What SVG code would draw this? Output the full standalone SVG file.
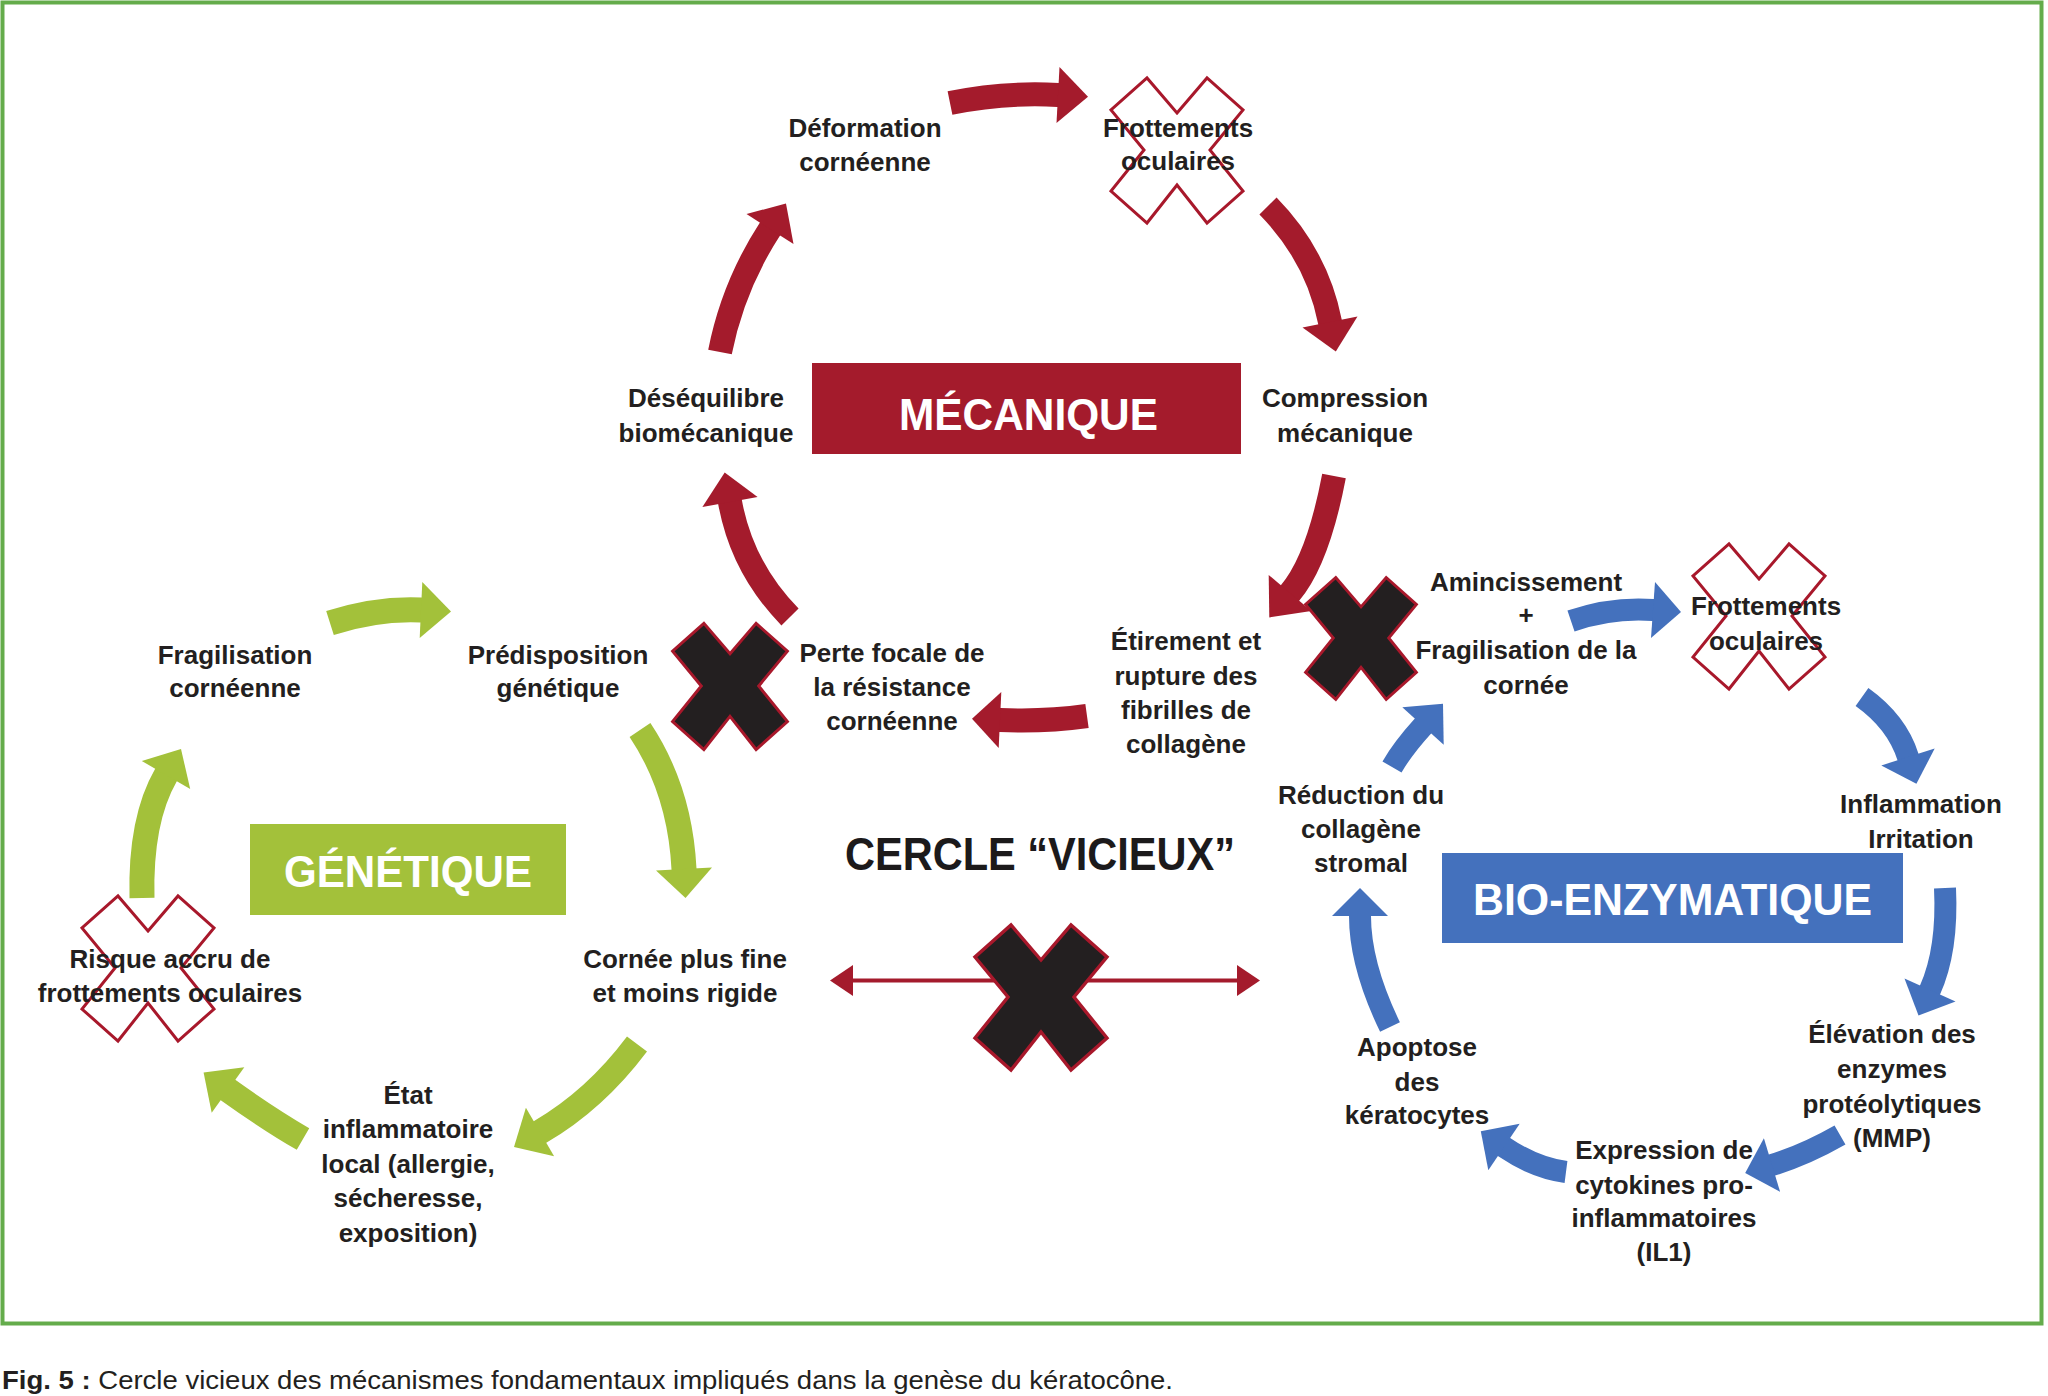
<svg xmlns="http://www.w3.org/2000/svg" width="2048" height="1396" viewBox="0 0 2048 1396">
<style>
.lbl{font-family:"Liberation Sans",Arial,sans-serif;font-weight:bold;font-size:26px;fill:#231f20;text-anchor:middle}
.ttl{font-family:"Liberation Sans",Arial,sans-serif;font-weight:bold;font-size:45px;fill:#ffffff}
.big{font-family:"Liberation Sans",Arial,sans-serif;font-weight:bold;font-size:46px;fill:#1c1a1b}
.cap{font-family:"Liberation Sans",Arial,sans-serif;font-size:25px;fill:#231f20}
.xo{fill:none;stroke:#a8182b;stroke-width:3}
.xb{fill:#231f20;stroke:#a8182b;stroke-width:3.4}
.sr{fill:none;stroke:#a41b2c;stroke-width:24}
.hr{fill:#a41b2c}
.sg{fill:none;stroke:#a3c13a;stroke-width:25}
.hg{fill:#a3c13a}
.sb{fill:none;stroke:#4471bd;stroke-width:22}
.hb{fill:#4471bd}
</style>
<defs>
<path id="xshape" d="M0,-37 L30,-72 L66,-40 L33,0 L66,41 L30,73 L0,35 L-30,73 L-66,41 L-33,0 L-66,-40 L-30,-72 Z"/>
</defs>
<rect x="0" y="0" width="2048" height="1396" fill="#ffffff"/>
<rect x="2.5" y="2.5" width="2039" height="1321" fill="none" stroke="#64ac4b" stroke-width="4"/>

<g id="connectors">
<!-- MECANIQUE -->
<path class="sr" d="M950,103 Q1004,92 1058,95 L1061,95.2"/>
<polygon class="hr" points="1059.5,67 1088,96.7 1056.5,123"/>
<path class="sr" d="M1268,206 Q1317,256 1330,322 L1330.6,325"/>
<polygon class="hr" points="1302.5,327.4 1335.8,351.4 1357.5,316.6"/>
<path class="sr" d="M1334,476 Q1318,560 1290,593 L1288,595.3"/>
<polygon class="hr" points="1268.7,574.9 1269.3,617.4 1311.3,611.1"/>
<path class="sr" d="M1087,716 Q1044,722 1000,720 L997,719.9"/>
<polygon class="hr" points="1001.3,692 972,718.7 998.7,748"/>
<path class="sr" d="M790,617 Q742,568 730,502 L729.5,499"/>
<polygon class="hr" points="757.6,497 724.7,472.5 702.4,507"/>
<path class="sr" d="M720,352 Q733,286 770,229 L771.6,226.5"/>
<polygon class="hr" points="793.5,244 786,203.5 746.5,214"/>
<!-- GENETIQUE -->
<path class="sg" d="M330,623 Q377,608 421,610 L424,610.1"/>
<polygon class="hg" points="419.7,638 451,611.4 422.3,582"/>
<path class="sg" d="M640,730 Q680,790 684,869 L684.2,872"/>
<polygon class="hg" points="656,870.4 685.5,898 712,867.6"/>
<path class="sg" d="M637,1044 Q595,1100 540,1132 L537.4,1133.5"/>
<polygon class="hg" points="525.9,1107.8 514,1147 554.1,1156.2"/>
<path class="sg" d="M303,1139 Q270,1120 228,1090 L225.6,1088.3"/>
<polygon class="hg" points="244.3,1067.2 203.6,1072.6 211.7,1112.8"/>
<path class="sg" d="M142,898 Q140,820 166,775 L167.5,772.4"/>
<polygon class="hg" points="190.2,789 181,749 141.8,761"/>
<!-- BIO-ENZYMATIQUE -->
<path class="sb" d="M1571,621 Q1612,607 1653,610 L1656,610.2"/>
<polygon class="hb" points="1651,638 1681,612 1655,582"/>
<path class="sb" d="M1862,697 Q1897,722 1908,757 L1908.9,759.9"/>
<polygon class="hb" points="1881.3,765.4 1916.4,783.7 1934.7,748.6"/>
<path class="sb" d="M1945,888 Q1948,950 1930,990 L1928.8,992.7"/>
<polygon class="hb" points="1904.5,978.5 1918.5,1015.5 1955.5,1001.5"/>
<path class="sb" d="M1840,1135 Q1805,1155 1772,1165 L1769.1,1165.9"/>
<polygon class="hb" points="1763.9,1138.2 1745.2,1173.1 1780.1,1191.8"/>
<path class="sb" d="M1566,1172 Q1535,1168 1504,1147 L1501.5,1145.3"/>
<polygon class="hb" points="1519.7,1123.8 1480.8,1131.3 1488.3,1170.2"/>
<path class="sb" d="M1390,1027 Q1360,965 1360,916 L1360,913"/>
<polygon class="hb" points="1388,916 1360,888 1332,916"/>
<path class="sb" d="M1392,767 Q1403,748 1423,726 L1425,723.8"/>
<polygon class="hb" points="1443.7,744.8 1443,703.8 1402.3,707.2"/>
<!-- double arrow -->
<line x1="850" y1="980.5" x2="1240" y2="980.5" stroke="#a41b2c" stroke-width="4"/>
<polygon class="hr" points="830,980.5 853,965 853,996"/>
<polygon class="hr" points="1260,980.5 1237,965 1237,996"/>
</g>

<g id="markers">
<use href="#xshape" class="xo" transform="translate(1177,150)"/>
<use href="#xshape" class="xo" transform="translate(1759,616)"/>
<use href="#xshape" class="xo" transform="translate(148,968)"/>
<use href="#xshape" class="xb" transform="translate(730,686) scale(0.87)"/>
<use href="#xshape" class="xb" transform="translate(1361,638) scale(0.84)"/>
<use href="#xshape" class="xb" transform="translate(1041,997)"/>
</g>

<g id="mecanique">
<rect x="812" y="363" width="429" height="91" fill="#a41b2c"/>
<text class="ttl" x="899" y="430" textLength="259" lengthAdjust="spacingAndGlyphs">MÉCANIQUE</text>
</g>
<g id="genetique">
<rect x="250" y="824" width="316" height="91" fill="#a3c13a"/>
<text class="ttl" x="284" y="887" textLength="248" lengthAdjust="spacingAndGlyphs">GÉNÉTIQUE</text>
</g>
<g id="bioenzymatique">
<rect x="1442" y="853" width="461" height="90" fill="#4471bd"/>
<text class="ttl" x="1473" y="915" textLength="399" lengthAdjust="spacingAndGlyphs">BIO-ENZYMATIQUE</text>
</g>
<g id="cercle">
<text class="big" x="845" y="870" textLength="390" lengthAdjust="spacingAndGlyphs">CERCLE “VICIEUX”</text>
</g>

<g id="n-deformation"><text class="lbl" x="865" y="137">Déformation</text><text class="lbl" x="865" y="171">cornéenne</text></g>
<g id="n-frottements-m"><text class="lbl" x="1178" y="137">Frottements</text><text class="lbl" x="1178" y="170">oculaires</text></g>
<g id="n-desequilibre"><text class="lbl" x="706" y="407">Déséquilibre</text><text class="lbl" x="706" y="442">biomécanique</text></g>
<g id="n-compression"><text class="lbl" x="1345" y="407">Compression</text><text class="lbl" x="1345" y="442">mécanique</text></g>
<g id="n-etirement"><text class="lbl" x="1186" y="650">Étirement et</text><text class="lbl" x="1186" y="685">rupture des</text><text class="lbl" x="1186" y="719">fibrilles de</text><text class="lbl" x="1186" y="753">collagène</text></g>
<g id="n-perte"><text class="lbl" x="892" y="662">Perte focale de</text><text class="lbl" x="892" y="696">la résistance</text><text class="lbl" x="892" y="730">cornéenne</text></g>

<g id="n-fragilisation"><text class="lbl" x="235" y="664">Fragilisation</text><text class="lbl" x="235" y="697">cornéenne</text></g>
<g id="n-predisposition"><text class="lbl" x="558" y="664">Prédisposition</text><text class="lbl" x="558" y="697">génétique</text></g>
<g id="n-cornee"><text class="lbl" x="685" y="968">Cornée plus fine</text><text class="lbl" x="685" y="1002">et moins rigide</text></g>
<g id="n-risque"><text class="lbl" x="170" y="968">Risque accru de</text><text class="lbl" x="170" y="1002">frottements oculaires</text></g>
<g id="n-etat"><text class="lbl" x="408" y="1104">État</text><text class="lbl" x="408" y="1138">inflammatoire</text><text class="lbl" x="408" y="1173">local (allergie,</text><text class="lbl" x="408" y="1207">sécheresse,</text><text class="lbl" x="408" y="1242">exposition)</text></g>

<g id="n-amincissement"><text class="lbl" x="1526" y="591">Amincissement</text><text class="lbl" x="1526" y="624">+</text><text class="lbl" x="1526" y="659">Fragilisation de la</text><text class="lbl" x="1526" y="694">cornée</text></g>
<g id="n-frottements-b"><text class="lbl" x="1766" y="615">Frottements</text><text class="lbl" x="1766" y="650">oculaires</text></g>
<g id="n-inflammation"><text class="lbl" x="1921" y="813">Inflammation</text><text class="lbl" x="1921" y="848">Irritation</text></g>
<g id="n-elevation"><text class="lbl" x="1892" y="1043">Élévation des</text><text class="lbl" x="1892" y="1078">enzymes</text><text class="lbl" x="1892" y="1113">protéolytiques</text><text class="lbl" x="1892" y="1147">(MMP)</text></g>
<g id="n-expression"><text class="lbl" x="1664" y="1159">Expression de</text><text class="lbl" x="1664" y="1194">cytokines pro-</text><text class="lbl" x="1664" y="1227">inflammatoires</text><text class="lbl" x="1664" y="1261">(IL1)</text></g>
<g id="n-apoptose"><text class="lbl" x="1417" y="1056">Apoptose</text><text class="lbl" x="1417" y="1091">des</text><text class="lbl" x="1417" y="1124">kératocytes</text></g>
<g id="n-reduction"><text class="lbl" x="1361" y="804">Réduction du</text><text class="lbl" x="1361" y="838">collagène</text><text class="lbl" x="1361" y="872">stromal</text></g>

<g id="caption">
<text class="cap" x="2" y="1389" textLength="1171" lengthAdjust="spacingAndGlyphs"><tspan font-weight="bold">Fig. 5 :</tspan> Cercle vicieux des mécanismes fondamentaux impliqués dans la genèse du kératocône.</text>
</g>
</svg>
